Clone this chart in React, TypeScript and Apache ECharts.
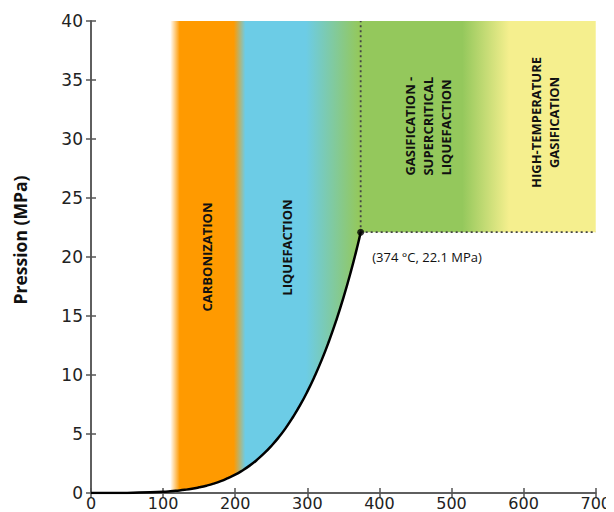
import React, { useEffect, useRef } from "react";
import * as echarts from "echarts";

// Water saturation (liquid–vapour) curve
const temps = [0, 50, 100, 110, 120, 130, 140, 150, 160, 170, 180, 190, 200, 210, 220, 230, 240, 250, 260, 270, 280, 290, 300, 310, 320, 330, 340, 350, 360, 370, 374];
const pressures = [0.0, 0.01, 0.1, 0.14, 0.2, 0.27, 0.36, 0.48, 0.62, 0.79, 1.0, 1.26, 1.55, 1.91, 2.32, 2.8, 3.35, 3.98, 4.69, 5.5, 6.42, 7.44, 8.59, 9.87, 11.28, 12.86, 14.6, 16.53, 18.67, 21.04, 22.1];
const criticalPoint = [374, 22.1];
const criticalLabel = "(374 °C, 22.1 MPa)";
const xMax = 700;
const yMax = 40;

// Zone labels and their anchor points (data coordinates)
const zoneLabels = ["CARBONIZATION", "LIQUEFACTION", "GASIFICATION -\nSUPERCRITICAL\nLIQUEFACTION", "HIGH-TEMPERATURE\nGASIFICATION"];
const zoneLabelX = [161, 272, 467, 629];
const zoneLabelY = [20.0, 20.8, 26.9, 31.4];
const zoneLabelAlign = ["center", "center", "left", "center"];

// Colour zones along temperature: [temperature, colour]
const zoneStops: [number, string][] = [
  [0, "rgba(255,154,0,0)"],
  [110, "rgba(255,154,0,0)"],
  [123, "#FF9A00"],
  [198, "#FF9A00"],
  [214, "#6CCCE6"],
  [298, "#6CCCE6"],
  [372, "#94C85C"],
  [515, "#94C85C"],
  [580, "#F5EF8E"],
  [700, "#F5EF8E"],
];

const curveData = temps.map((t, i) => [t, pressures[i]]);

export default function App() {
  const ref = useRef<HTMLDivElement>(null);
  useEffect(() => {
    if (!ref.current) return;
    const chart = echarts.init(ref.current, null, { renderer: "svg" });
    const axisColor = "#555";
    const labelFont = "DejaVu Sans";
    const option: any = {
      animation: false,
      grid: { left: 83, right: 18, top: 13, bottom: 19 },
      xAxis: [
        {
          type: "value",
          min: 0,
          max: xMax,
          interval: 100,
          axisLine: { lineStyle: { color: axisColor, width: 1.5 } },
          axisTick: { inside: true, length: 5, lineStyle: { color: axisColor, width: 1.5 } },
          axisLabel: { color: "#222", fontSize: 16, fontFamily: labelFont, margin: 2 },
          splitLine: { show: false },
        },
        {
          type: "value",
          position: "top",
          min: 0,
          max: xMax,
          interval: 100,
          axisLine: { show: true, lineStyle: { color: axisColor, width: 1.5 } },
          axisTick: { show: true, inside: true, length: 5, lineStyle: { color: axisColor, width: 1.5 } },
          axisLabel: { show: false },
          splitLine: { show: false },
        },
      ],
      yAxis: [
        {
          type: "value",
          min: 0,
          max: yMax,
          interval: 5,
          axisLine: { show: true, lineStyle: { color: axisColor, width: 1.5 } },
          axisTick: { show: true, inside: true, length: 5, lineStyle: { color: axisColor, width: 1.5 } },
          axisLabel: { color: "#222", fontSize: 17, fontFamily: labelFont, margin: 8 },
          splitLine: { show: false },
        },
        {
          type: "value",
          position: "right",
          min: 0,
          max: yMax,
          interval: 5,
          axisLine: { show: true, lineStyle: { color: axisColor, width: 1.5 } },
          axisTick: { show: true, inside: true, length: 5, lineStyle: { color: axisColor, width: 1.5 } },
          axisLabel: { show: false },
          splitLine: { show: false },
        },
      ],
      graphic: [
        {
          type: "text",
          x: 12,
          y: 232,
          rotation: Math.PI / 2,
          style: {
            text: "Pression (MPa)",
            fill: "#111",
            font: "bold 17.5px 'Open Sans'",
            align: "center",
            verticalAlign: "middle",
          },
        },
      ],
      series: [
        {
          type: "custom",
          z: 1,
          clip: true,
          data: [[0, yMax]],
          renderItem: (params: any, api: any) => {
            const pts: number[][] = [];
            pts.push(api.coord([0, yMax]));
            curveData.forEach((d) => pts.push(api.coord(d)));
            pts.push(api.coord([xMax, criticalPoint[1]]));
            pts.push(api.coord([xMax, yMax]));
            const x0 = api.coord([0, 0])[0];
            const x1 = api.coord([xMax, 0])[0];
            const grad = new echarts.graphic.LinearGradient(
              x0, 0, x1, 0,
              zoneStops.map(([t, c]) => ({ offset: t / xMax, color: c })),
              true
            );
            return { type: "polygon", shape: { points: pts }, style: { fill: grad } };
          },
        },
        {
          type: "line",
          z: 3,
          data: [criticalPoint, [criticalPoint[0], yMax]],
          showSymbol: false,
          lineStyle: { color: "#444", width: 1.8, type: [2, 3] },
          silent: true,
        },
        {
          type: "line",
          z: 3,
          data: [criticalPoint, [xMax, criticalPoint[1]]],
          showSymbol: false,
          lineStyle: { color: "#444", width: 1.8, type: [2, 3] },
          silent: true,
        },
        {
          type: "line",
          z: 4,
          data: curveData,
          smooth: true,
          showSymbol: false,
          lineStyle: { color: "#000", width: 2.5 },
          silent: true,
        },
        {
          type: "scatter",
          z: 5,
          data: [criticalPoint],
          symbolSize: 7,
          itemStyle: { color: "#000" },
          silent: true,
        },
        {
          type: "custom",
          z: 6,
          data: zoneLabels.map((_, i) => [zoneLabelX[i], zoneLabelY[i]]),
          renderItem: (params: any, api: any) => {
            const i = params.dataIndex;
            const p = api.coord([api.value(0), api.value(1)]);
            return {
              type: "text",
              x: p[0],
              y: p[1],
              rotation: Math.PI / 2,
              style: {
                text: zoneLabels[i],
                fill: "#111",
                font: "bold 13px 'Open Sans'",
                align: zoneLabelAlign[i],
                verticalAlign: "middle",
                lineHeight: 18,
              },
            };
          },
        },
        {
          type: "custom",
          z: 6,
          data: [[390, 20.0]],
          renderItem: (params: any, api: any) => {
            const p = api.coord([api.value(0), api.value(1)]);
            return {
              type: "text",
              x: p[0],
              y: p[1],
              style: {
                text: criticalLabel,
                fill: "#111",
                font: "13px 'Open Sans'",
                align: "left",
                verticalAlign: "middle",
              },
            };
          },
        },
      ],
    };
    chart.setOption(option);
    return () => chart.dispose();
  }, []);
  return <div ref={ref} style={{ width: 606, height: 504 }} />;
}
